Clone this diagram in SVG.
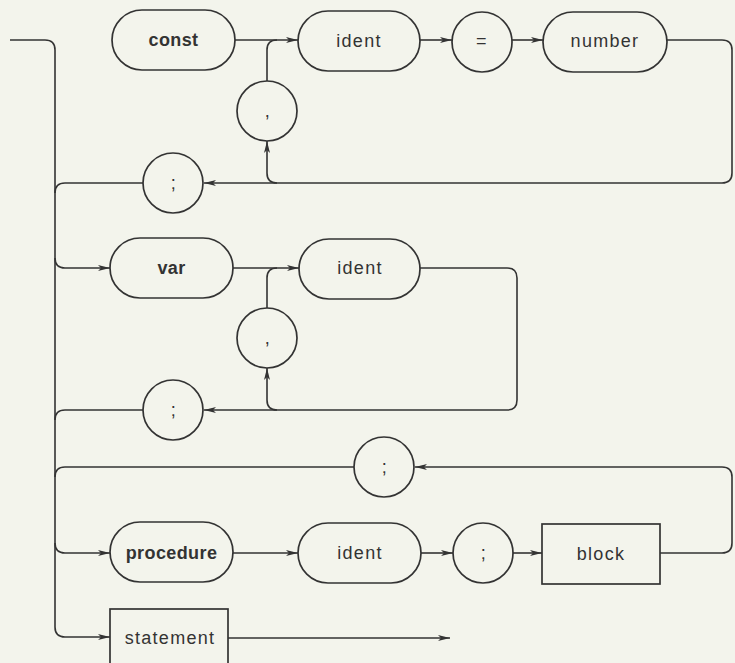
<svg xmlns="http://www.w3.org/2000/svg" width="735" height="663" viewBox="0 0 735 663">
<defs>
<marker id="ah" viewBox="0 0 12 8" refX="12" refY="4" markerWidth="12" markerHeight="8" markerUnits="userSpaceOnUse" orient="auto">
<path d="M0,1 L12,4 L0,7 L3,4 Z" fill="#333"/>
</marker>
<style>
.bg{fill:#f3f4ec}
.n{fill:none;stroke:#333;stroke-width:1.7}
.c{fill:none;stroke:#333;stroke-width:1.6}
.a{fill:none;stroke:#333;stroke-width:1.6;marker-end:url(#ah)}
.t{font-family:"Liberation Sans",Arial,sans-serif;font-size:18px;fill:#333;text-anchor:middle;letter-spacing:1.3px}
.b{font-family:"Liberation Sans",Arial,sans-serif;font-size:18px;font-weight:bold;fill:#333;text-anchor:middle;letter-spacing:0.4px}
</style>
</defs>
<rect class="bg" x="0" y="0" width="735" height="663"/>
<g id="connectors">
<path class="c" d="M10,40 H45 Q55,40 55,50 V627 Q55,637 65,637 H110" marker-end="url(#ah)"/>
<path class="a" d="M235,40 H298"/>
<path class="c" d="M267,81 V50 Q267,40 277,40"/>
<path class="a" d="M420,40 H452"/>
<path class="a" d="M512,40 H543"/>
<path class="a" d="M667,40 H722 Q732,40 732,50 V173 Q732,183 722,183 H204"/>
<path class="a" d="M277,183 Q267,183 267,173 V141"/>
<path class="c" d="M143,183 H65 Q55,183 55,193"/>
<path class="a" d="M55,258 Q55,268 65,268 H110"/>
<path class="a" d="M233,268 H299"/>
<path class="c" d="M267,308 V278 Q267,268 277,268"/>
<path class="a" d="M420,268 H507 Q517,268 517,278 V400 Q517,410 507,410 H204"/>
<path class="a" d="M277,410 Q267,410 267,400 V368"/>
<path class="c" d="M143,410 H65 Q55,410 55,420"/>
<path class="c" d="M354,467 H65 Q55,467 55,477"/>
<path class="a" d="M55,543 Q55,553 65,553 H110"/>
<path class="a" d="M233,553 H298"/>
<path class="a" d="M421,553 H453"/>
<path class="a" d="M513,553 H542"/>
<path class="a" d="M660,553 H722 Q732,553 732,543 V477 Q732,467 722,467 H415"/>
<path class="a" d="M228,638 H450"/>
</g>
<g id="const"><rect class="n" x="112" y="10" width="123" height="60" rx="30"/><text class="b" x="173.5" y="46">const</text></g>
<g id="ident1"><rect class="n" x="298" y="11" width="122" height="60" rx="30"/><text class="t" x="359" y="47">ident</text></g>
<g id="eq"><circle class="n" cx="482" cy="42" r="30"/><text class="t" x="482" y="47">=</text></g>
<g id="number"><rect class="n" x="543" y="12" width="124" height="60" rx="30"/><text class="t" x="605" y="47">number</text></g>
<g id="comma1"><circle class="n" cx="267" cy="111" r="30"/><text class="t" x="268" y="117">,</text></g>
<g id="semi1"><circle class="n" cx="173" cy="183" r="30"/><text class="t" x="174" y="189">;</text></g>
<g id="var"><rect class="n" x="110" y="238" width="123" height="60" rx="30"/><text class="b" x="171.5" y="274">var</text></g>
<g id="ident2"><rect class="n" x="299" y="239" width="121" height="60" rx="30"/><text class="t" x="360" y="274">ident</text></g>
<g id="comma2"><circle class="n" cx="267" cy="338" r="30"/><text class="t" x="268" y="344">,</text></g>
<g id="semi2"><circle class="n" cx="173" cy="410" r="30"/><text class="t" x="174" y="416">;</text></g>
<g id="semi3"><circle class="n" cx="384" cy="467" r="30"/><text class="t" x="385" y="473">;</text></g>
<g id="procedure"><rect class="n" x="110" y="522" width="123" height="60" rx="30"/><text class="b" x="171.5" y="559">procedure</text></g>
<g id="ident3"><rect class="n" x="298" y="523" width="123" height="60" rx="30"/><text class="t" x="360" y="559">ident</text></g>
<g id="semi4"><circle class="n" cx="483" cy="553" r="30"/><text class="t" x="484" y="559">;</text></g>
<g id="block"><rect class="n" x="542" y="524" width="118" height="60"/><text class="t" x="601" y="560">block</text></g>
<g id="statement"><rect class="n" x="110" y="609" width="118" height="70"/><text class="t" x="170" y="644">statement</text></g>
</svg>
